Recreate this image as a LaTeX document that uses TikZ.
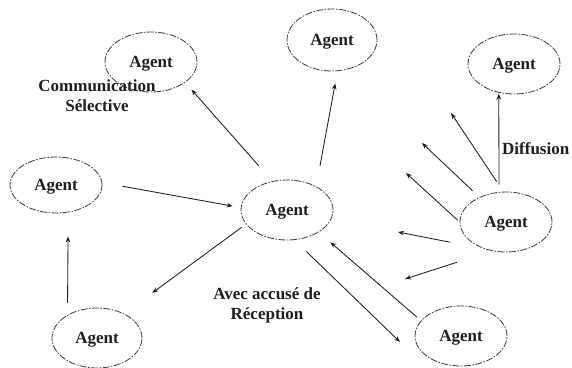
\documentclass[tikz,border=0pt]{standalone}
\usepackage{fontspec}
\setmainfont{Liberation Serif}
\usetikzlibrary{shapes.geometric,arrows.meta}
\definecolor{ink}{HTML}{1E1E1E}
\definecolor{rim}{HTML}{3A3A3A}
\begin{document}
\begin{tikzpicture}[x=1pt,y=-1pt,
  agent/.style={ellipse, draw=rim, line width=0.8pt,
    dash pattern=on 7pt off 1.5pt on 1.5pt off 1.5pt,
    minimum width=92pt, minimum height=60pt, inner sep=0pt,
    text=ink, font=\bfseries\fontsize{17}{20}\selectfont, text depth=0pt},
  lbl/.style={text=ink, font=\bfseries\fontsize{17}{20}\selectfont,
    align=center, inner sep=0pt},
  flow/.style={draw=ink, line width=0.85pt, -{Stealth[length=6pt,width=4.5pt]}}]
\useasboundingbox (0,0) rectangle (572,367);

% agents
\node[agent] (TL) at (151,62) {Agent};
\node[agent, minimum width=90pt, minimum height=62pt] (TM) at (332,40) {Agent};
\node[agent] (TR) at (514,64) {Agent};
\node[agent, minimum height=56pt] (L) at (56,185) {Agent};
\node[agent] (C) at (287,210) {Agent};
\node[agent] (R) at (506,222) {Agent};
\node[agent, minimum width=90pt] (BL) at (97,338) {Agent};
\node[agent] (BR) at (461,336) {Agent};

% labels
\node[lbl] (sel) at (97,96) {Communication\\Sélective};
\node[lbl, anchor=base west] (dif) at (502,154) {Diffusion};
\node[lbl] (ack) at (267,305) {Avec accusé de\\Réception};

% selective communication
\draw[flow, shorten <=20.7pt, shorten >=9.5pt] (C.117) -- (TL.-31);
\draw[flow, shorten <=21pt, shorten >=12.4pt] (C.39) -- (TM.-80);
\draw[flow, shorten <=20.5pt, shorten >=8.2pt] (L.3) -- (C.177);
\draw[flow, shorten <=5.3pt, shorten >=35pt] (C.-161) -- (BL.42);
\draw[flow, shorten <=12pt, shorten >=24pt] (BL.142) -- (L.-66);

% with acknowledgement
\coordinate (cbr) at (400,342);
\draw[flow, shorten <=16.3pt] (C.-76) -- (cbr);
\draw[flow, shorten <=5.4pt, shorten >=15.4pt] (BR.159) -- (C.-35);

% broadcast
\coordinate (d1) at (451,113);
\coordinate (d2) at (422,143);
\coordinate (d3) at (406,173);
\coordinate (d4) at (398,232);
\coordinate (d5) at (405,279);
\draw[flow, shorten <=7.3pt, shorten >=1pt] (R.103) -- (TR.-118);
\draw[flow, shorten <=12pt] (R.95) -- (d1);
\draw[flow, shorten <=9.2pt] (R.137) -- (d2);
\draw[flow, shorten <=2.5pt] (R.180) -- (d3);
\draw[flow, shorten <=35.8pt] (R.-128) -- (d4);
\draw[flow, shorten <=36.7pt] (R.-116) -- (d5);
\end{tikzpicture}
\end{document}
